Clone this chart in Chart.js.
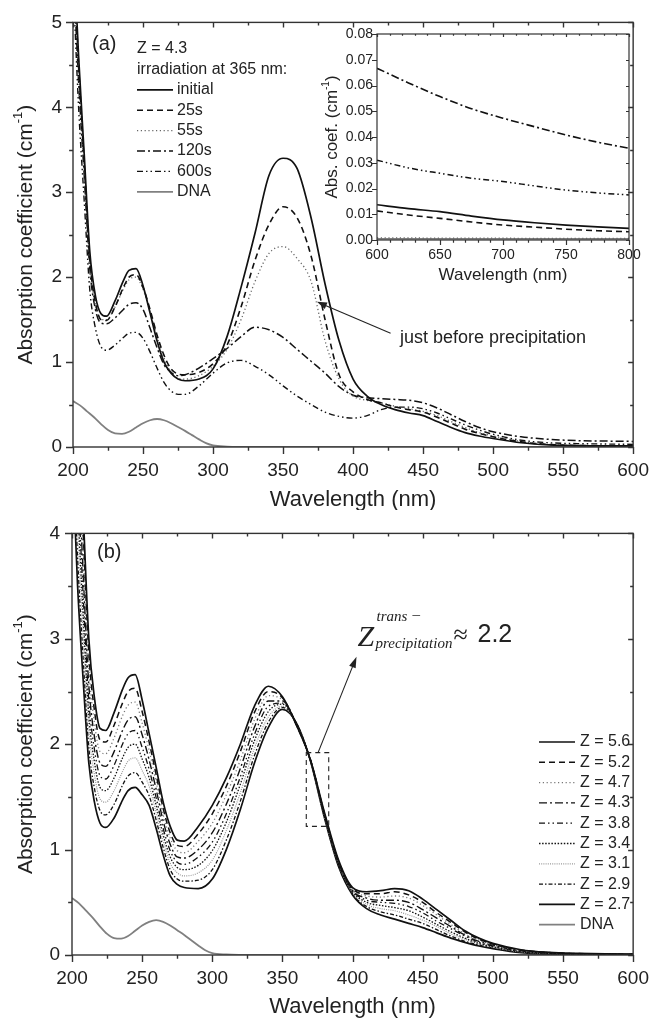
<!DOCTYPE html>
<html>
<head>
<meta charset="utf-8">
<script src="https://cdn.jsdelivr.net/npm/chart.js@4.4.1/dist/chart.umd.min.js"></script>
<style>
body { margin: 0; background: #fff; width: 661px; height: 1019px; position: relative; overflow: hidden; }
canvas { position: absolute; }
</style>
</head>
<body>
<canvas id="chartA" width="661" height="510" style="left:0;top:0"></canvas>
<canvas id="inset" width="361" height="300" style="left:300px;top:0"></canvas>
<canvas id="chartB" width="661" height="509" style="left:0;top:510px"></canvas>
<script>
// ---- panel (a): Z = 4.3, irradiation at 365 nm ----
const wlA = [200,204,208,212,216,220,224,230,236,240,245,250,255,260,265,270,275,280,290,300,310,320,330,340,350,360,370,380,390,400,410,420,430,440,450,460,470,480,490,500,520,540,560,580,600];
const initialA = [6.0,4.6,3.45,2.3,1.78,1.57,1.54,1.72,1.96,2.08,2.1,1.9,1.58,1.25,1.0,0.87,0.8,0.78,0.8,0.92,1.3,1.88,2.52,3.2,3.4,3.28,2.7,1.92,1.25,0.8,0.6,0.5,0.44,0.4,0.37,0.3,0.23,0.17,0.13,0.1,0.05,0.025,0.016,0.014,0.014];
const s25A = [5.9,4.5,3.35,2.2,1.7,1.5,1.49,1.65,1.88,2.0,2.03,1.88,1.62,1.32,1.08,0.92,0.86,0.85,0.88,0.98,1.2,1.65,2.2,2.62,2.83,2.7,2.25,1.5,0.85,0.65,0.56,0.52,0.47,0.44,0.41,0.35,0.28,0.21,0.16,0.12,0.06,0.03,0.018,0.014,0.011];
const s55A = [5.8,4.4,3.3,2.15,1.68,1.5,1.5,1.65,1.86,1.97,2.0,1.86,1.6,1.3,1.05,0.88,0.81,0.8,0.84,0.95,1.15,1.5,1.95,2.28,2.36,2.22,1.95,1.25,0.8,0.6,0.55,0.52,0.48,0.45,0.42,0.37,0.3,0.23,0.17,0.13,0.065,0.03,0.015,0.006,0.002];
const s120A = [5.7,4.3,3.2,2.1,1.62,1.46,1.45,1.52,1.62,1.68,1.7,1.62,1.4,1.17,0.97,0.88,0.84,0.85,0.93,1.04,1.16,1.3,1.41,1.38,1.29,1.15,1.01,0.87,0.71,0.61,0.58,0.57,0.56,0.55,0.52,0.46,0.38,0.3,0.23,0.18,0.12,0.09,0.075,0.07,0.066];
const s600A = [5.5,4.0,2.9,1.85,1.4,1.18,1.14,1.2,1.29,1.34,1.35,1.28,1.12,0.93,0.76,0.66,0.62,0.62,0.72,0.87,0.99,1.02,0.95,0.85,0.72,0.6,0.5,0.41,0.36,0.34,0.37,0.44,0.47,0.47,0.45,0.4,0.33,0.26,0.2,0.15,0.08,0.05,0.04,0.035,0.031];

// DNA (same in both panels)
const wlDna = [200,205,210,215,220,225,230,235,240,245,250,255,260,265,270,275,280,285,290,295,300,310,320,350,400,500,600];
const dna = [0.54,0.49,0.42,0.35,0.27,0.2,0.16,0.155,0.18,0.23,0.28,0.315,0.33,0.315,0.28,0.235,0.19,0.14,0.09,0.045,0.018,0.005,0.002,0.001,0,0,0];

// inset 600-800 nm
const wlInset = [600,625,650,675,700,725,750,775,800];
const insetInitial = [0.0137,0.0122,0.011,0.0093,0.0078,0.0067,0.0058,0.0051,0.0045];
const inset25 = [0.0113,0.0097,0.0084,0.007,0.0058,0.005,0.0042,0.0036,0.0032];
const inset55 = [0.0008,0.0008,0.0007,0.0007,0.0007,0.0006,0.0006,0.0006,0.0006];
const inset120 = [0.0667,0.061,0.0557,0.051,0.0473,0.044,0.0408,0.038,0.0356];
const inset600 = [0.031,0.028,0.0259,0.024,0.0227,0.021,0.0194,0.0183,0.0175];
const insetDna = [0.0004,0.0004,0.0004,0.0004,0.0004,0.0004,0.0004,0.0004,0.0004];

// ---- panel (b): different Z ----
const wlB = [200,204,208,212,216,220,224,230,236,240,245,250,255,260,265,270,275,280,290,300,310,320,330,340,350,360,370,380,390,400,410,420,430,440,450,460,470,480,490,500,520,540,560,580,600];
const z56 = [7.0,5.6,4.2,3.0,2.44,2.15,2.13,2.3,2.52,2.63,2.66,2.42,2.1,1.78,1.45,1.22,1.09,1.08,1.22,1.42,1.68,2.0,2.36,2.55,2.45,2.18,1.85,1.35,0.9,0.64,0.6,0.61,0.63,0.61,0.53,0.43,0.33,0.23,0.16,0.11,0.05,0.025,0.015,0.01,0.008];
const z52 = [6.74,5.35,4.01,2.86,2.32,2.04,2.02,2.18,2.39,2.5,2.53,2.31,2.02,1.71,1.39,1.16,1.04,1.03,1.15,1.34,1.6,1.93,2.3,2.5,2.44,2.18,1.85,1.34,0.89,0.63,0.58,0.58,0.6,0.57,0.5,0.4,0.31,0.22,0.15,0.104,0.047,0.023,0.014,0.009,0.007];
const z47 = [6.47,5.1,3.82,2.72,2.2,1.93,1.91,2.06,2.27,2.37,2.4,2.2,1.94,1.64,1.33,1.11,0.99,0.97,1.08,1.25,1.52,1.85,2.23,2.46,2.42,2.18,1.85,1.34,0.89,0.62,0.56,0.55,0.56,0.54,0.47,0.38,0.29,0.2,0.14,0.098,0.043,0.021,0.013,0.009,0.007];
const z43 = [6.19,4.82,3.61,2.56,2.07,1.82,1.79,1.93,2.13,2.23,2.26,2.09,1.85,1.57,1.27,1.05,0.93,0.92,1.0,1.16,1.43,1.77,2.16,2.41,2.41,2.19,1.85,1.33,0.88,0.61,0.54,0.52,0.52,0.5,0.43,0.35,0.27,0.19,0.13,0.092,0.04,0.019,0.012,0.008,0.006];
const z38 = [5.9,4.55,3.4,2.41,1.95,1.7,1.67,1.8,2.0,2.1,2.13,1.97,1.76,1.49,1.2,0.99,0.88,0.86,0.93,1.07,1.34,1.69,2.09,2.36,2.39,2.19,1.85,1.33,0.87,0.61,0.52,0.5,0.49,0.46,0.4,0.32,0.25,0.18,0.12,0.085,0.036,0.018,0.01,0.007,0.006];
const z34 = [5.64,4.3,3.21,2.27,1.83,1.59,1.56,1.68,1.87,1.97,2.0,1.86,1.68,1.42,1.14,0.93,0.83,0.81,0.85,0.99,1.26,1.62,2.03,2.31,2.38,2.19,1.84,1.32,0.86,0.6,0.5,0.47,0.45,0.42,0.36,0.29,0.22,0.16,0.11,0.079,0.033,0.016,0.009,0.006,0.005];
const z31 = [5.37,4.05,3.02,2.13,1.71,1.48,1.45,1.56,1.74,1.84,1.87,1.75,1.6,1.35,1.08,0.87,0.78,0.75,0.78,0.9,1.18,1.54,1.96,2.26,2.36,2.19,1.84,1.31,0.86,0.59,0.48,0.44,0.42,0.38,0.33,0.27,0.2,0.15,0.105,0.073,0.029,0.014,0.008,0.006,0.004];
const z29 = [5.09,3.77,2.81,1.97,1.58,1.37,1.33,1.43,1.61,1.7,1.73,1.64,1.51,1.28,1.02,0.81,0.72,0.7,0.71,0.81,1.09,1.46,1.89,2.21,2.35,2.2,1.84,1.31,0.85,0.58,0.46,0.41,0.38,0.34,0.3,0.24,0.18,0.13,0.095,0.067,0.026,0.012,0.007,0.005,0.004];
const z27 = [4.8,3.5,2.6,1.82,1.45,1.25,1.21,1.3,1.47,1.56,1.59,1.52,1.42,1.2,0.95,0.75,0.67,0.64,0.63,0.72,1.0,1.38,1.82,2.16,2.33,2.2,1.84,1.3,0.84,0.57,0.44,0.38,0.34,0.3,0.26,0.21,0.16,0.12,0.085,0.06,0.022,0.01,0.006,0.004,0.003];

// tick labels
const xTicks = [200,250,300,350,400,450,500,550,600];
const yTicksA = [0,1,2,3,4,5];
const yTicksB = [0,1,2,3,4];
const xTicksInset = [600,650,700,750,800];
const yTicksInset = [0,0.01,0.02,0.03,0.04,0.05,0.06,0.07,0.08];

const labelsA = ['initial','25s','55s','120s','600s','DNA'];
const labelsB = ['Z = 5.6','Z = 5.2','Z = 4.7','Z = 4.3','Z = 3.8','Z = 3.4','Z = 3.1','Z = 2.9','Z = 2.7','DNA'];

const FONT = '"Liberation Sans", Arial, sans-serif';
const SERIF = '"Liberation Serif", "Times New Roman", serif';
const INK = '#222';

// line styles
const SOLID = [], DASH = [6,4], DOT = [1.2,2.6], DASHDOT = [8,3,2,3], DASHDOTDOT = [6,3,1.5,3,1.5,3];
const DENSEDOT = [1.5,1.6], FINEDOT = [1,1.2], SHORTDD = [4,2,1.5,2];

function series(wl, vals, label, color, dash, width) {
    return {
        label: label,
        data: wl.map((w, i) => ({ x: w, y: vals[i] })),
        borderColor: color,
        borderDash: dash,
        borderWidth: width,
        pointRadius: 0,
        fill: false,
        cubicInterpolationMode: 'monotone'
    };
}

function tickRange(s, minor, major, fn) {
    const n = Math.round((s.max - s.min) / minor);
    for (let i = 0; i <= n; i++) {
        const v = s.min + i * minor;
        const isMajor = Math.abs(v / major - Math.round(v / major)) < 1e-6;
        fn(Math.round(s.getPixelForValue(v)) + 0.5, isMajor);
    }
}

// frame + ticks (outward bottom/left, inward top/right), then extra drawing
function framePlugin(o) {
    return {
        id: 'frame',
        afterDraw(chart) {
            const { ctx, chartArea: a, scales: { x, y } } = chart;
            ctx.save();
            ctx.strokeStyle = '#333';
            ctx.lineWidth = o.lw;
            ctx.strokeRect(a.left, a.top, a.right - a.left, a.bottom - a.top);
            ctx.beginPath();
            tickRange(x, o.xMinor, o.xMajor, (px, major) => {
                ctx.moveTo(px, a.bottom); ctx.lineTo(px, a.bottom + (major ? o.out : o.out * 0.55));
                ctx.moveTo(px, a.top); ctx.lineTo(px, a.top + (major ? o.inn : o.inn * 0.6));
            });
            tickRange(y, o.yMinor, o.yMajor, (py, major) => {
                ctx.moveTo(a.left, py); ctx.lineTo(a.left - (major ? o.out : o.out * 0.55), py);
                ctx.moveTo(a.right, py); ctx.lineTo(a.right - (major ? o.inn : o.inn * 0.6), py);
            });
            ctx.stroke();
            ctx.restore();
            if (o.extra) o.extra(chart);
        }
    };
}

function makeOptions(o) {
    return {
        responsive: false,
        animation: false,
        devicePixelRatio: 1,
        layout: { padding: { top: o.padTop, right: o.padRight, left: 0, bottom: 0 } },
        plugins: { legend: { display: false }, tooltip: { enabled: false } },
        scales: {
            x: {
                type: 'linear',
                min: o.xTicks[0], max: o.xTicks[o.xTicks.length - 1],
                afterFit: s => { s.height = o.xH; },
                afterBuildTicks: s => { s.ticks = o.xTicks.map(v => ({ value: v })); },
                grid: { display: false, drawTicks: false },
                border: { display: false },
                ticks: { padding: o.xPad, color: INK, autoSkip: false, maxRotation: 0,
                         font: { family: FONT, size: o.tick }, callback: v => String(v) }
            },
            y: {
                type: 'linear',
                min: o.yTicks[0], max: o.yTicks[o.yTicks.length - 1],
                afterFit: s => { s.width = o.yW; },
                afterBuildTicks: s => { s.ticks = o.yTicks.map(v => ({ value: v })); },
                grid: { display: false, drawTicks: false },
                border: { display: false },
                ticks: { padding: o.yPad, color: INK, autoSkip: false,
                         font: { family: FONT, size: o.tick }, callback: o.yFmt }
            }
        }
    };
}

function rotTitle(ctx, cx, cy, pre, sup, post, size) {
    ctx.save();
    ctx.translate(cx, cy);
    ctx.rotate(-Math.PI / 2);
    ctx.fillStyle = INK;
    ctx.textAlign = 'left';
    ctx.textBaseline = 'alphabetic';
    const f1 = size + 'px ' + FONT, f2 = Math.round(size * 0.6) + 'px ' + FONT;
    ctx.font = f1;
    const w1 = ctx.measureText(pre).width, w3 = ctx.measureText(post).width;
    ctx.font = f2;
    const w2 = ctx.measureText(sup).width;
    let x = -(w1 + w2 + w3) / 2;
    const base = size * 0.36;
    ctx.font = f1; ctx.fillText(pre, x, base); x += w1;
    ctx.font = f2; ctx.fillText(sup, x, base - size * 0.45); x += w2;
    ctx.font = f1; ctx.fillText(post, x, base);
    ctx.restore();
}

function text(ctx, str, x, y, size, align, font) {
    ctx.save();
    ctx.fillStyle = INK;
    ctx.font = size + 'px ' + (font || FONT);
    ctx.textAlign = align || 'left';
    ctx.textBaseline = 'middle';
    ctx.fillText(str, x, y);
    ctx.restore();
}

function arrow(ctx, x1, y1, x2, y2, len, half) {
    const ang = Math.atan2(y2 - y1, x2 - x1);
    ctx.save();
    ctx.strokeStyle = INK; ctx.fillStyle = INK; ctx.lineWidth = 1.1;
    ctx.beginPath();
    ctx.moveTo(x1, y1);
    ctx.lineTo(x2 - Math.cos(ang) * len * 0.8, y2 - Math.sin(ang) * len * 0.8);
    ctx.stroke();
    ctx.beginPath();
    ctx.moveTo(x2, y2);
    ctx.lineTo(x2 - Math.cos(ang) * len + Math.sin(ang) * half, y2 - Math.sin(ang) * len - Math.cos(ang) * half);
    ctx.lineTo(x2 - Math.cos(ang) * len - Math.sin(ang) * half, y2 - Math.sin(ang) * len + Math.cos(ang) * half);
    ctx.closePath();
    ctx.fill();
    ctx.restore();
}

function legend(ctx, datasets, x0, x1, tx, y0, dy, size) {
    datasets.forEach((d, i) => {
        const y = y0 + i * dy;
        ctx.save();
        ctx.strokeStyle = d.borderColor;
        ctx.lineWidth = d.borderWidth;
        ctx.setLineDash(d.borderDash);
        ctx.beginPath();
        ctx.moveTo(x0, y); ctx.lineTo(x1, y);
        ctx.stroke();
        ctx.restore();
        text(ctx, d.label, tx, y, size);
    });
}

// ---- chart (a) ----
const dsA = [
    series(wlA, initialA, labelsA[0], '#111', SOLID, 1.7),
    series(wlA, s25A, labelsA[1], '#111', DASH, 1.6),
    series(wlA, s55A, labelsA[2], '#666', DOT, 1.3),
    series(wlA, s120A, labelsA[3], '#111', DASHDOT, 1.5),
    series(wlA, s600A, labelsA[4], '#111', DASHDOTDOT, 1.4),
    series(wlDna, dna, labelsA[5], '#808080', SOLID, 1.8)
];

new Chart(document.getElementById('chartA'), {
    type: 'line',
    data: { datasets: dsA },
    options: makeOptions({ padTop: 22, padRight: 17, xH: 63, yW: 73, xPad: 12, yPad: 11, tick: 19,
                           xTicks: xTicks, yTicks: yTicksA, yFmt: v => String(v) }),
    plugins: [framePlugin({ lw: 1.4, xMinor: 25, xMajor: 50, yMinor: 0.5, yMajor: 1, out: 7, inn: 5,
        extra: chart => {
            const { ctx, chartArea: a, scales: { x, y } } = chart;
            rotTitle(ctx, 24, (a.top + a.bottom) / 2, 'Absorption coefficient (cm', '-1', ')', 21);
            text(ctx, 'Wavelength (nm)', (a.left + a.right) / 2, 500, 22, 'center');
            text(ctx, '(a)', 92, 44, 20);
            text(ctx, 'Z = 4.3', 137, 49, 16);
            text(ctx, 'irradiation at 365 nm:', 137, 69.4, 16);
            legend(ctx, dsA, 137, 173, 177, 89.8, 20.4, 16);
            arrow(ctx, x.getPixelForValue(426.8), y.getPixelForValue(1.34),
                  x.getPixelForValue(374.2), y.getPixelForValue(1.71), 10, 3.5);
            text(ctx, 'just before precipitation', x.getPixelForValue(433.5), y.getPixelForValue(1.28), 18);
        }
    })]
});

// ---- inset ----
const dsInset = [
    series(wlInset, insetInitial, labelsA[0], '#111', SOLID, 1.7),
    series(wlInset, inset25, labelsA[1], '#111', DASH, 1.6),
    series(wlInset, inset55, labelsA[2], '#666', DOT, 1.3),
    series(wlInset, inset120, labelsA[3], '#111', DASHDOT, 1.6),
    series(wlInset, inset600, labelsA[4], '#111', DASHDOTDOT, 1.5),
    series(wlInset, insetDna, labelsA[5], '#808080', SOLID, 1.8)
];

new Chart(document.getElementById('inset'), {
    type: 'line',
    data: { datasets: dsInset },
    options: makeOptions({ padTop: 34, padRight: 32, xH: 60, yW: 77, xPad: 7, yPad: 4, tick: 14,
                           xTicks: xTicksInset, yTicks: yTicksInset, yFmt: v => v.toFixed(2) }),
    plugins: [framePlugin({ lw: 1.2, xMinor: 10, xMajor: 50, yMinor: 0.01, yMajor: 0.01, out: 5, inn: 3,
        extra: chart => {
            const { ctx, chartArea: a } = chart;
            rotTitle(ctx, 31, (a.top + a.bottom) / 2, 'Abs. coef. (cm', '-1', ')', 17);
            text(ctx, 'Wavelength (nm)', (a.left + a.right) / 2, 275, 17, 'center');
        }
    })]
});

// ---- chart (b) ----
const dsB = [
    series(wlB, z56, labelsB[0], '#111', SOLID, 1.7),
    series(wlB, z52, labelsB[1], '#111', DASH, 1.5),
    series(wlB, z47, labelsB[2], '#777', DOT, 1.3),
    series(wlB, z43, labelsB[3], '#111', DASHDOT, 1.4),
    series(wlB, z38, labelsB[4], '#111', DASHDOTDOT, 1.3),
    series(wlB, z34, labelsB[5], '#111', DENSEDOT, 1.3),
    series(wlB, z31, labelsB[6], '#999', FINEDOT, 1.2),
    series(wlB, z29, labelsB[7], '#111', SHORTDD, 1.3),
    series(wlB, z27, labelsB[8], '#111', SOLID, 1.7),
    series(wlDna, dna, labelsB[9], '#808080', SOLID, 1.8)
];

new Chart(document.getElementById('chartB'), {
    type: 'line',
    data: { datasets: dsB },
    options: makeOptions({ padTop: 22, padRight: 19, xH: 64, yW: 72, xPad: 12, yPad: 12, tick: 19,
                           xTicks: xTicks, yTicks: yTicksB, yFmt: v => String(v) }),
    plugins: [framePlugin({ lw: 1.4, xMinor: 25, xMajor: 50, yMinor: 0.5, yMajor: 1, out: 7, inn: 5,
        extra: chart => {
            const { ctx, chartArea: a, scales: { x, y } } = chart;
            rotTitle(ctx, 24, (a.top + a.bottom) / 2, 'Absorption coefficient (cm', '-1', ')', 21);
            text(ctx, 'Wavelength (nm)', (a.left + a.right) / 2, 497, 22, 'center');
            text(ctx, '(b)', 97, 42, 20);
            legend(ctx, dsB, 539, 575, 580, 232, 20.3, 16);

            // dashed box round the crossing region + arrow to the label
            const bx0 = x.getPixelForValue(367), bx1 = x.getPixelForValue(383);
            const by0 = y.getPixelForValue(1.92), by1 = y.getPixelForValue(1.22);
            ctx.save();
            ctx.strokeStyle = INK; ctx.lineWidth = 1.1; ctx.setLineDash([5, 4]);
            ctx.strokeRect(bx0, by0, bx1 - bx0, by1 - by0);
            ctx.restore();
            arrow(ctx, x.getPixelForValue(375.4), by0, x.getPixelForValue(402.8), y.getPixelForValue(2.83), 11, 3.5);

            const zx = x.getPixelForValue(403.5), zy = y.getPixelForValue(2.93);
            ctx.save();
            ctx.fillStyle = INK;
            ctx.textBaseline = 'alphabetic';
            ctx.font = 'italic 30px ' + SERIF;
            ctx.fillText('Z', zx, zy);
            ctx.font = 'italic 15px ' + SERIF;
            ctx.fillText('trans', zx + 19, zy - 25);
            ctx.font = '15px ' + SERIF;
            ctx.fillText('\u2013', zx + 55, zy - 27);
            ctx.font = 'italic 15px ' + SERIF;
            ctx.fillText('precipitation', zx + 18, zy + 2);
            ctx.font = '26px ' + SERIF;
            ctx.fillText('\u2248', zx + 96, zy - 3);
            ctx.font = '25px ' + FONT;
            ctx.fillText('2.2', zx + 120, zy - 4);
            ctx.restore();
        }
    })]
});
</script>
</body>
</html>
